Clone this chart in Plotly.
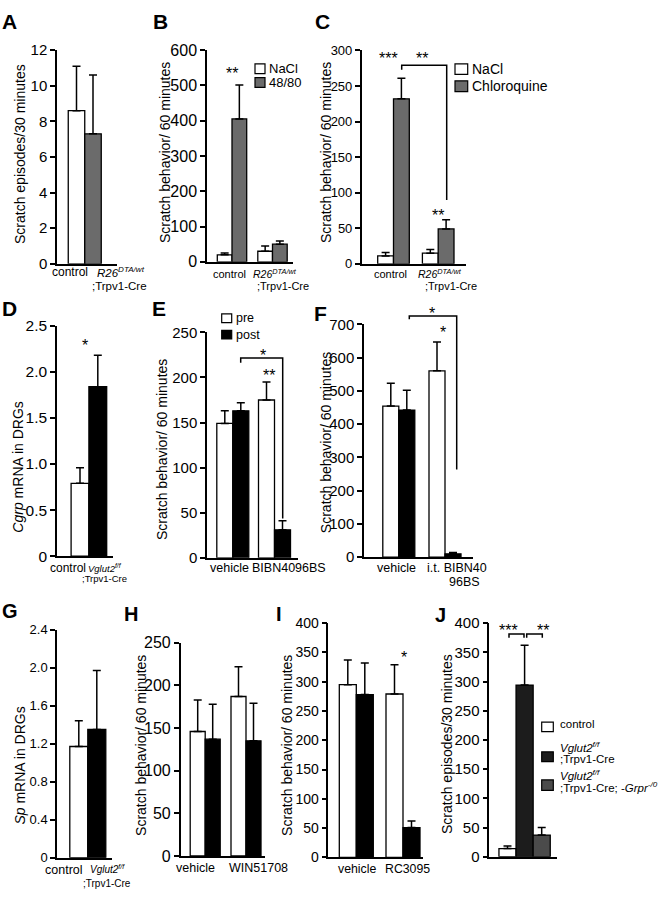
import plotly.graph_objects as go

W, H = 664, 900
FONT = "Liberation Sans, Arial, Helvetica, sans-serif"
C_WHITE = "#ffffff"
C_GREY = "#6b6b6b"
C_BLACK = "#000000"
C_J_BLACK = "#1c1c1c"
C_J_GREY = "#4b4b4b"

# ---------------- data ----------------
R26_LINES = ["<i>R26</i><sup><i>DTA/wt</i></sup>", ";Trpv1-Cre"]
VGLUT_LINES = ["<i>Vglut2</i><sup><i>f/f</i></sup>", ";Trpv1-Cre"]

a_labels = [["control"], R26_LINES]
a_mean = [8.6, 7.3]
a_sem = [2.5, 3.3]
a_yticks = [0, 2, 4, 6, 8, 10, 12]

b_labels = [["control"], R26_LINES]
b_series = ["NaCl", "48/80"]
b_nacl = [20, 30]
b_nacl_sem = [5, 15]
b_c4880 = [405, 50]
b_c4880_sem = [96, 9]
b_yticks = [0, 100, 200, 300, 400, 500, 600]

c_labels = [["control"], R26_LINES]
c_series = ["NaCl", "Chloroquine"]
c_nacl = [11, 15]
c_nacl_sem = [5, 5]
c_chloroquine = [232, 49]
c_chloroquine_sem = [29, 13]
c_yticks = [0, 50, 100, 150, 200, 250, 300]

d_labels = [["control"], VGLUT_LINES]
d_mean = [0.79, 1.84]
d_sem = [0.17, 0.34]
d_yticks = [0, 0.5, 1.0, 1.5, 2.0, 2.5]
d_yticktext = ["0", "0.5", "1.0", "1.5", "2.0", "2.5"]

e_labels = [["vehicle"], ["BIBN4096BS"]]
e_series = ["pre", "post"]
e_pre = [149, 175]
e_pre_sem = [14, 20]
e_post = [163, 31]
e_post_sem = [9, 10]
e_yticks = [0, 50, 100, 150, 200, 250]

f_labels = [["vehicle"], ["i.t. BIBN40", "96BS"]]
f_pre = [454, 560]
f_pre_sem = [69, 87]
f_post = [442, 10]
f_post_sem = [60, 4]
f_yticks = [0, 100, 200, 300, 400, 500, 600, 700]

g_labels = [["control"], VGLUT_LINES]
g_mean = [1.17, 1.35]
g_sem = [0.27, 0.62]
g_yticks = [0, 0.4, 0.8, 1.2, 1.6, 2.0, 2.4]
g_yticktext = ["0", "0.4", "0.8", "1.2", "1.6", "2.0", "2.4"]

h_labels = [["vehicle"], ["WIN51708"]]
h_pre = [146, 187]
h_pre_sem = [37, 35]
h_post = [137, 135]
h_post_sem = [41, 44]
h_yticks = [0, 50, 100, 150, 200, 250]

i_labels = [["vehicle"], ["RC3095"]]
i_pre = [295, 279]
i_pre_sem = [42, 50]
i_post = [278, 51]
i_post_sem = [54, 11]
i_yticks = [0, 50, 100, 150, 200, 250, 300, 350, 400]

j_groups = [["control"],
            ["<i>Vglut2</i><sup><i>f/f</i></sup>", ";Trpv1-Cre"],
            ["<i>Vglut2</i><sup><i>f/f</i></sup>", ";Trpv1-Cre; -<i>Grpr</i><sup><i>-/0</i></sup>"]]
j_mean = [14, 294, 37]
j_sem = [4.5, 68, 13]
j_yticks = [0, 50, 100, 150, 200, 250, 300, 350, 400]

# ---------------- layout geometry (pixels) ----------------
# lab: per category, list of (x, y, size) for each text line
GEOM = {
    "A": dict(x=(57, 117), y=(42, 260), c0=76.5, s=16.5, tick=15,
              lab=[[(70, 268, 12)], [(121, 268, 11.5), (119.5, 283, 11.5)]]),
    "B": dict(x=(207, 293), y=(42, 258), c0=232, s=40.5, tick=16,
              lab=[[(229, 270, 11)], [(275, 270, 10.5), (282.5, 283, 11)]]),
    "C": dict(x=(361.7, 466), y=(42.3, 260), c0=393.5, s=44.7, tick=13,
              lab=[[(390, 270, 11)], [(439.5, 270, 10.5), (451, 283, 11)]]),
    "D": dict(x=(57, 113), y=(323.3, 558.3), c0=80, s=17.8, tick=15.5,
              lab=[[(67.5, 570, 12)], [(105, 570, 9.5), (104.5, 581, 9.5)]]),
    "E": dict(x=(207, 298), y=(330, 560), c0=232.8, s=41.7, tick=15,
              lab=[[(230, 570, 12.5)], [(289, 570, 12.5)]]),
    "F": dict(x=(364, 473), y=(321.7, 559.3), c0=398.8, s=46.2, tick=15,
              lab=[[(396, 570, 12.5)], [(456.7, 570, 12.5), (464, 585, 12.5)]]),
    "G": dict(x=(57, 112), y=(633.3, 866), c0=78.8, s=18, tick=13,
              lab=[[(64, 878.5, 12.5)], [(107.5, 877.5, 10), (106.5, 892.5, 10)]]),
    "H": dict(x=(180.7, 265), y=(646.7, 864.3), c0=205.2, s=40.8, tick=16,
              lab=[[(195, 876.7, 12.5)], [(258, 876.7, 12.5)]]),
    "I": dict(x=(328.3, 423), y=(626.7, 865.7), c0=356.3, s=46.7, tick=14,
              lab=[[(356.7, 878, 12.3)], [(407.5, 878, 12.3)]]),
    "J": dict(x=(489.3, 556.7), y=(626.7, 865), c0=507.5, s=17.1, tick=15, lab=None),
}


def fx(x):
    return x / W


def fy(y):
    return 1 - y / H


fig = go.Figure()
axes = {}
annotations = []
shapes = []


def make_axes(idx, g, yticks, yticktext=None):
    k = "" if idx == 1 else str(idx)
    axes["xaxis" + k] = dict(
        domain=[fx(g["x"][0]), fx(g["x"][1])],
        range=[(g["x"][0] - g["c0"]) / g["s"], (g["x"][1] - g["c0"]) / g["s"]],
        anchor="y" + k, showline=True, linecolor="black", linewidth=1.5,
        ticks="", showticklabels=False, showgrid=False, zeroline=False, fixedrange=True)
    axes["yaxis" + k] = dict(
        domain=[fy(g["y"][1]), fy(g["y"][0])],
        range=[0, yticks[-1]], anchor="x" + k,
        showline=True, linecolor="black", linewidth=1.5,
        ticks="outside", ticklen=5, tickwidth=1.5, tickcolor="black",
        tickvals=yticks, ticktext=yticktext if yticktext else [str(v) for v in yticks],
        tickfont=dict(size=g["tick"], color="black", family=FONT),
        showgrid=False, zeroline=False, fixedrange=True)
    return "x" + k, "y" + k


def bar(xa, ya, y, sem, color, width, offset, name=None):
    fig.add_trace(go.Bar(
        x=list(range(len(y))), y=y, width=width, offset=offset, name=name,
        marker=dict(color=color, line=dict(color="black", width=1.3)),
        error_y=dict(type="data", symmetric=False, array=sem, arrayminus=[0] * len(y),
                     color="black", thickness=1.5, width=4),
        xaxis=xa, yaxis=ya, showlegend=False, hoverinfo="skip"))


def text(x, y, s, size=12.5, xanchor="center", yanchor="middle", angle=0, align="center"):
    annotations.append(dict(x=fx(x), y=fy(y), xref="paper", yref="paper", text=s,
                            showarrow=False, xanchor=xanchor, yanchor=yanchor,
                            textangle=angle, align=align, borderpad=0,
                            font=dict(size=size, color="black", family=FONT)))


def xlabels(g, labels):
    for lines, pos in zip(labels, g["lab"]):
        for line, (cx, cy, sz) in zip(lines, pos):
            text(cx, cy, line, size=sz)


def ytitle(x, y, s):
    text(x, y, s, size=14, angle=-90)


def star(x, y, s):
    text(x, y + 3.7, s, size=16)


def bracket(pts):
    d = "M " + " L ".join(f"{fx(px)},{fy(py)}" for px, py in pts)
    shapes.append(dict(type="path", path=d, xref="paper", yref="paper",
                       line=dict(color="black", width=1.5)))


def legend_box(x0, y0, x1, y1, color):
    shapes.append(dict(type="rect", x0=fx(x0), x1=fx(x1), y0=fy(y1), y1=fy(y0),
                       xref="paper", yref="paper", fillcolor=color,
                       line=dict(color="black", width=1.2)))


def legend_item(x0, y0, x1, y1, color, label, size=14):
    legend_box(x0, y0, x1, y1, color)
    text(x1 + 3, (y0 + y1) / 2, label, size=size, xanchor="left", align="left")


def letter(x, y, s, size=21):
    text(x, y, f"<b>{s}</b>", size=size, xanchor="left", yanchor="top")


# ---------------- Panel A ----------------
g = GEOM["A"]
xa, ya = make_axes(1, g, a_yticks)
bar(xa, ya, a_mean, a_sem, [C_WHITE, C_GREY], 1.0, -0.5)
xlabels(g, a_labels)
ytitle(20, 148, "Scratch episodes/30 minutes")
letter(1, 0, "A")

# ---------------- Panel B ----------------
g = GEOM["B"]
xa, ya = make_axes(2, g, b_yticks)
w = 14.7 / g["s"]
bar(xa, ya, b_nacl, b_nacl_sem, C_WHITE, w, -w, b_series[0])
bar(xa, ya, b_c4880, b_c4880_sem, C_GREY, w, 0, b_series[1])
xlabels(g, b_labels)
ytitle(165, 147, "Scratch behavior/ 60 minutes")
letter(152, 0, "B")
star(232, 62, "**")
legend_item(255, 56, 265, 66, C_WHITE, b_series[0], size=13)
legend_item(255, 70, 265, 80, C_GREY, b_series[1], size=13)

# ---------------- Panel C ----------------
g = GEOM["C"]
xa, ya = make_axes(3, g, c_yticks)
w = 15.8 / g["s"]
bar(xa, ya, c_nacl, c_nacl_sem, C_WHITE, w, -w, c_series[0])
bar(xa, ya, c_chloroquine, c_chloroquine_sem, C_GREY, w, 0, c_series[1])
xlabels(g, c_labels)
ytitle(326, 147, "Scratch behavior/ 60 minutes")
letter(314, 0, "C")
star(388, 47, "***")
star(422, 47, "**")
star(438, 207, "**")
bracket([(401.7, 62), (401.7, 57.3), (446.7, 57.3), (446.7, 195)])
legend_item(455, 56, 467.7, 66.7, C_WHITE, c_series[0])
legend_item(455, 73.3, 467.7, 84.3, C_GREY, c_series[1])

# ---------------- Panel D ----------------
g = GEOM["D"]
xa, ya = make_axes(4, g, d_yticks, d_yticktext)
bar(xa, ya, d_mean, d_sem, [C_WHITE, C_BLACK], 1.0, -0.5)
xlabels(g, d_labels)
ytitle(18, 468, "<i>Cgrp</i> mRNA in DRGs")
letter(1, 293, "D")
star(85, 340, "*")

# ---------------- Panel E ----------------
g = GEOM["E"]
xa, ya = make_axes(5, g, e_yticks)
w = 16 / g["s"]
bar(xa, ya, e_pre, e_pre_sem, C_WHITE, w, -w, e_series[0])
bar(xa, ya, e_post, e_post_sem, C_BLACK, w, 0, e_series[1])
xlabels(g, e_labels)
ytitle(162, 450, "Scratch behavior/ 60 minutes")
letter(151, 293, "E")
bracket([(240.7, 361), (240.7, 356), (282.7, 356), (282.7, 520)])
star(263, 350, "*")
star(269, 370, "**")
legend_item(221.7, 311, 231.7, 320, C_WHITE, e_series[0], size=12.5)
legend_item(221.7, 328, 231.7, 336.7, C_BLACK, e_series[1], size=12.5)

# ---------------- Panel F ----------------
g = GEOM["F"]
xa, ya = make_axes(6, g, f_yticks)
w = 16 / g["s"]
bar(xa, ya, f_pre, f_pre_sem, C_WHITE, w, -w)
bar(xa, ya, f_post, f_post_sem, C_BLACK, w, 0)
xlabels(g, f_labels)
ytitle(326, 443, "Scratch behavior/ 60 minutes")
letter(313, 298, "F")
bracket([(409.3, 316.7), (409.3, 313.3), (456.7, 313.3), (456.7, 470)])
star(431.7, 306.7, "*")
star(443.3, 326.7, "*")

# ---------------- Panel G ----------------
g = GEOM["G"]
xa, ya = make_axes(7, g, g_yticks, g_yticktext)
bar(xa, ya, g_mean, g_sem, [C_WHITE, C_BLACK], 1.0, -0.5)
xlabels(g, g_labels)
ytitle(20, 772, "<i>Sp</i> mRNA in DRGs")
letter(1, 602, "G", size=20)

# ---------------- Panel H ----------------
g = GEOM["H"]
xa, ya = make_axes(8, g, h_yticks)
w = 15 / g["s"]
bar(xa, ya, h_pre, h_pre_sem, C_WHITE, w, -w)
bar(xa, ya, h_post, h_post_sem, C_BLACK, w, 0)
xlabels(g, h_labels)
ytitle(141, 752, "Scratch behavior/ 60 minutes")
letter(123, 605, "H", size=20)

# ---------------- Panel I ----------------
g = GEOM["I"]
xa, ya = make_axes(9, g, i_yticks)
w = 17 / g["s"]
bar(xa, ya, i_pre, i_pre_sem, C_WHITE, w, -w)
bar(xa, ya, i_post, i_post_sem, C_BLACK, w, 0)
xlabels(g, i_labels)
ytitle(287, 752, "Scratch behavior/ 60 minutes")
letter(275, 605, "I", size=20)
star(404, 658, "*")

# ---------------- Panel J ----------------
g = GEOM["J"]
xa, ya = make_axes(10, g, j_yticks)
j_colors = [C_WHITE, C_J_BLACK, C_J_GREY]
bar(xa, ya, j_mean, j_sem, j_colors, 1.0, -0.5)
ytitle(447, 750, "Scratch episodes/30 minutes")
letter(434, 606, "J", size=20)
star(508, 630, "***")
star(543, 630, "**")
bracket([(509, 641.7), (509, 637.7), (524, 637.7), (524, 641.7)])
bracket([(526.7, 641.7), (526.7, 637.7), (542.3, 637.7), (542.3, 641.7)])
j_boxes = [(727.7, 737.3), (758, 768), (786.7, 797.3)]
j_text_y = [[730], [752.7, 765.7], [781.7, 794.3]]
for (y0, y1), col, lines, tys in zip(j_boxes, j_colors, j_groups, j_text_y):
    legend_box(541.7, y0, 553.3, y1, col)
    for line, ty in zip(lines, tys):
        text(559.3, ty, line, size=11.5, xanchor="left", align="left")

fig.update_layout(
    width=W, height=H,
    margin=dict(l=0, r=0, t=0, b=0),
    paper_bgcolor="white", plot_bgcolor="rgba(0,0,0,0)",
    showlegend=False, barmode="overlay",
    font=dict(family=FONT, color="black"),
    annotations=annotations, shapes=shapes,
    **axes,
)

fig.write_html("out.html", config=dict(displayModeBar=False),
               post_script="document.body.style.margin='0px';")
